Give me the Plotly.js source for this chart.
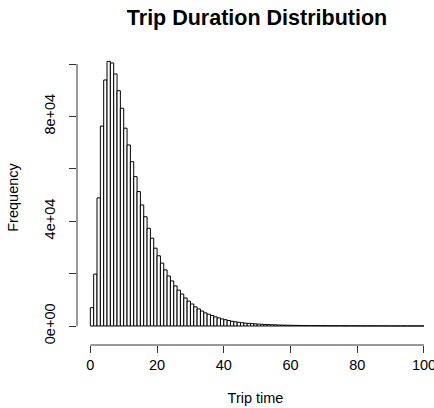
<!DOCTYPE html>
<html>
<head>
<meta charset="utf-8">
<script src="https://cdn.plot.ly/plotly-3.0.1.min.js"></script>
<style>
  html, body { margin: 0; padding: 0; background: #fff; }
  #chart { width: 434px; height: 408px; }
</style>
</head>
<body>
<div id="chart"></div>
<script>
// Histogram of trip durations, one-unit bins from 0 to 100
const binLeft = [
  0, 1, 2, 3, 4, 5, 6, 7, 8, 9, 10, 11, 12, 13, 14, 15, 16, 17, 18, 19,
  20, 21, 22, 23, 24, 25, 26, 27, 28, 29, 30, 31, 32, 33, 34, 35, 36, 37, 38, 39,
  40, 41, 42, 43, 44, 45, 46, 47, 48, 49, 50, 51, 52, 53, 54, 55, 56, 57, 58, 59,
  60, 61, 62, 63, 64, 65, 66, 67, 68, 69, 70, 71, 72, 73, 74, 75, 76, 77, 78, 79,
  80, 81, 82, 83, 84, 85, 86, 87, 88, 89, 90, 91, 92, 93, 94, 95, 96, 97, 98, 99
];
const binWidth = 1;
const frequency = [
  7000, 19800, 48900, 76300, 93900, 101000, 100400, 96200, 89800, 83100,
  75500, 69100, 62700, 57000, 51300, 46200, 41700, 37300, 33500, 29700,
  26800, 24000, 21400, 19100, 17200, 15300, 13700, 12200, 10700, 9500,
  8400, 7300, 6500, 5700, 5000, 4500, 4000, 3500, 3100, 2700,
  2400, 2100, 1800, 1600, 1400, 1250, 1100, 1000, 900, 800,
  720, 650, 590, 530, 480, 430, 390, 350, 320, 290,
  265, 245, 225, 205, 190, 175, 160, 150, 140, 130,
  120, 112, 105, 98, 92, 86, 80, 75, 70, 66,
  62, 58, 55, 52, 49, 46, 44, 42, 40, 38,
  36, 34, 33, 32, 31, 30, 29, 28, 27, 26
];

const xTicks = [0, 20, 40, 60, 80, 100];
const xTickText = ['0', '20', '40', '60', '80', '100'];
const yTicks = [0, 20000, 40000, 60000, 80000, 100000];
const yTickText = ['0e+00', '', '4e+04', '', '8e+04', ''];

const FONT = '"Liberation Sans", Arial, Helvetica, sans-serif';
const INK = '#333';
const TXT = 14.5;

const trace = {
  type: 'bar',
  x: binLeft.map(b => b + binWidth / 2),
  y: frequency,
  width: binWidth,
  marker: { color: '#ffffff', line: { color: '#000000', width: 1 } },
  hoverinfo: 'x+y'
};

const layout = {
  width: 434,
  height: 408,
  margin: { l: 77, r: 0, t: 50, b: 63 },
  paper_bgcolor: '#fff',
  plot_bgcolor: '#fff',
  showlegend: false,
  bargap: 0,
  font: { family: FONT, size: TXT, color: '#000' },
  title: {
    text: 'Trip Duration Distribution',
    font: { family: FONT, size: 21.5, weight: 700, color: '#000' },
    xref: 'container', x: 257 / 434, xanchor: 'center',
    yref: 'container', y: 1 - 17 / 408, yanchor: 'middle'
  },
  xaxis: {
    range: [-4, 103],
    tickvals: xTicks,
    ticktext: xTickText,
    ticks: 'outside', ticklen: 7, tickwidth: 1, tickcolor: INK,
    ticklabeloverflow: 'allow',
    ticklabelstandoff: 0,
    showgrid: false, zeroline: false, showline: false,
    automargin: false,
    tickfont: { family: FONT, size: TXT, color: '#000' },
    title: { text: 'Trip time', font: { family: FONT, size: TXT, color: '#000' }, standoff: 20 }
  },
  yaxis: {
    range: [-7252, 105344],
    tickvals: yTicks,
    ticktext: yTickText,
    tickangle: -90,
    ticks: 'outside', ticklen: 7, tickwidth: 1, tickcolor: INK,
    ticklabelstandoff: 8,
    showgrid: false, zeroline: false, showline: false,
    automargin: false,
    tickfont: { family: FONT, size: TXT, color: '#000' },
    title: { text: 'Frequency', font: { family: FONT, size: TXT, color: '#000' }, standoff: 20 }
  },
  shapes: [
    // axis lines span only the first to last tick, as in base graphics
    { type: 'line', xref: 'x', yref: 'paper', x0: xTicks[0], x1: xTicks[xTicks.length - 1], y0: 0, y1: 0,
      line: { color: INK, width: 1 } },
    { type: 'line', xref: 'paper', yref: 'y', x0: 0, x1: 0, y0: yTicks[0], y1: yTicks[yTicks.length - 1],
      line: { color: INK, width: 1 } }
  ]
};

Plotly.newPlot('chart', [trace], layout, { displayModeBar: false, staticPlot: true });
</script>
</body>
</html>
